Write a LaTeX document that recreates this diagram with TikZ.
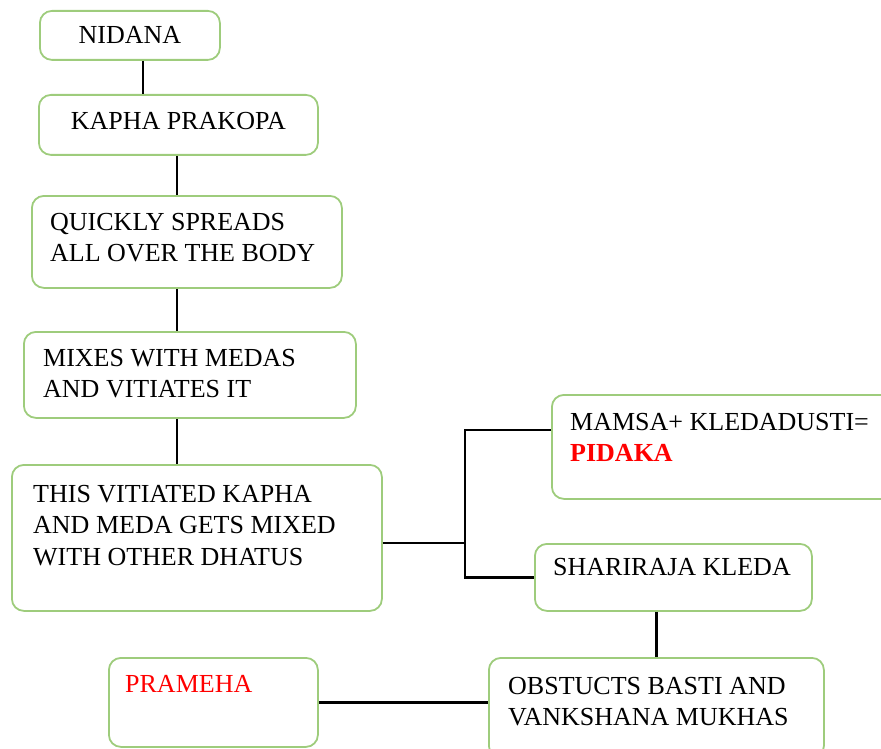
\documentclass[tikz,border=0pt]{standalone}
\usepackage{fontspec}
\setmainfont{Liberation Serif}
\usetikzlibrary{calc}
\definecolor{boxgreen}{RGB}{158,204,124}
\definecolor{hotred}{RGB}{255,0,0}
\newcommand{\flowfont}{\fontsize{26pt}{31.5pt}\selectfont}

\begin{document}
\begin{tikzpicture}[x=1pt,y=-1pt,
  box/.style={draw=boxgreen,line width=1.8pt,rounded corners=12pt,anchor=north west,inner sep=0pt,font=\flowfont},
  txt/.style={anchor=north west,inner sep=0pt,align=left,font=\flowfont},
  link/.style={line width=2.6pt}]
  \clip (0,0) rectangle (881,749);
  % main column
  \node[box,minimum width=180pt,minimum height=49pt] (nidana) at (39,10) {NIDANA};
  \node[box,minimum width=279pt,minimum height=60pt,text depth=8pt] (kapha) at (38,94) {KAPHA PRAKOPA};
  \node[box,minimum width=310pt,minimum height=92pt,
    label={[txt,xshift=19pt,yshift=-18pt]north west:{QUICKLY SPREADS\\ALL OVER THE BODY}}] (spreads) at (31,195) {};
  \node[box,minimum width=332pt,minimum height=86pt,
    label={[txt,xshift=20pt,yshift=-18pt]north west:{MIXES WITH MEDAS\\AND VITIATES IT}}] (mixes) at (23,331) {};
  \node[box,minimum width=370pt,minimum height=146pt,
    label={[txt,xshift=22pt,yshift=-21pt]north west:{THIS VITIATED KAPHA\\AND MEDA GETS MIXED\\WITH OTHER DHATUS}}] (dhatus) at (11,464) {};
  % right branch
  \node[box,minimum width=345pt,minimum height=104pt,
    label={[txt,xshift=19pt,yshift=-19pt]north west:{MAMSA+ KLEDADUSTI=\\\textbf{\textcolor{hotred}{PIDAKA}}}}] (pidaka) at (551,394) {};
  \node[box,minimum width=277pt,minimum height=67pt,
    label={[txt,xshift=19pt,yshift=-15pt]north west:{SHARIRAJA KLEDA}}] (kleda) at (534,543) {};
  \node[box,minimum width=335pt,minimum height=100pt,
    label={[txt,xshift=20pt,yshift=-20pt]north west:{OBSTUCTS BASTI AND\\VANKSHANA MUKHAS}}] (mukhas) at (488,657) {};
  \node[box,minimum width=209pt,minimum height=89pt,
    label={[txt,xshift=17pt,yshift=-18pt]north west:{\textcolor{hotred}{PRAMEHA}}}] (prameha) at (108,657) {};

  % connectors
  \coordinate (stem) at (143,0);
  \coordinate (spine) at (177,0);
  \coordinate (fork) at (465,430);
  \draw[link] (stem |- nidana.south) -- (stem |- kapha.north);
  \draw[link] (spine |- kapha.south) -- (spine |- spreads.north);
  \draw[link] (spine |- spreads.south) -- (spine |- mixes.north);
  \draw[link] (spine |- mixes.south) -- (spine |- dhatus.north);
  \draw[link] ([yshift=-5pt]dhatus.east) -- ([yshift=-5pt]dhatus.east -| fork);
  \draw[link] (pidaka.west |- fork) -- (fork) -- (fork |- kleda.west) -- (kleda.west);
  \draw[link] (mukhas.north |- kleda.south) -- (mukhas.north);
  \draw[link] (prameha.east) -- (prameha.east -| mukhas.west);
\end{tikzpicture}
\end{document}
